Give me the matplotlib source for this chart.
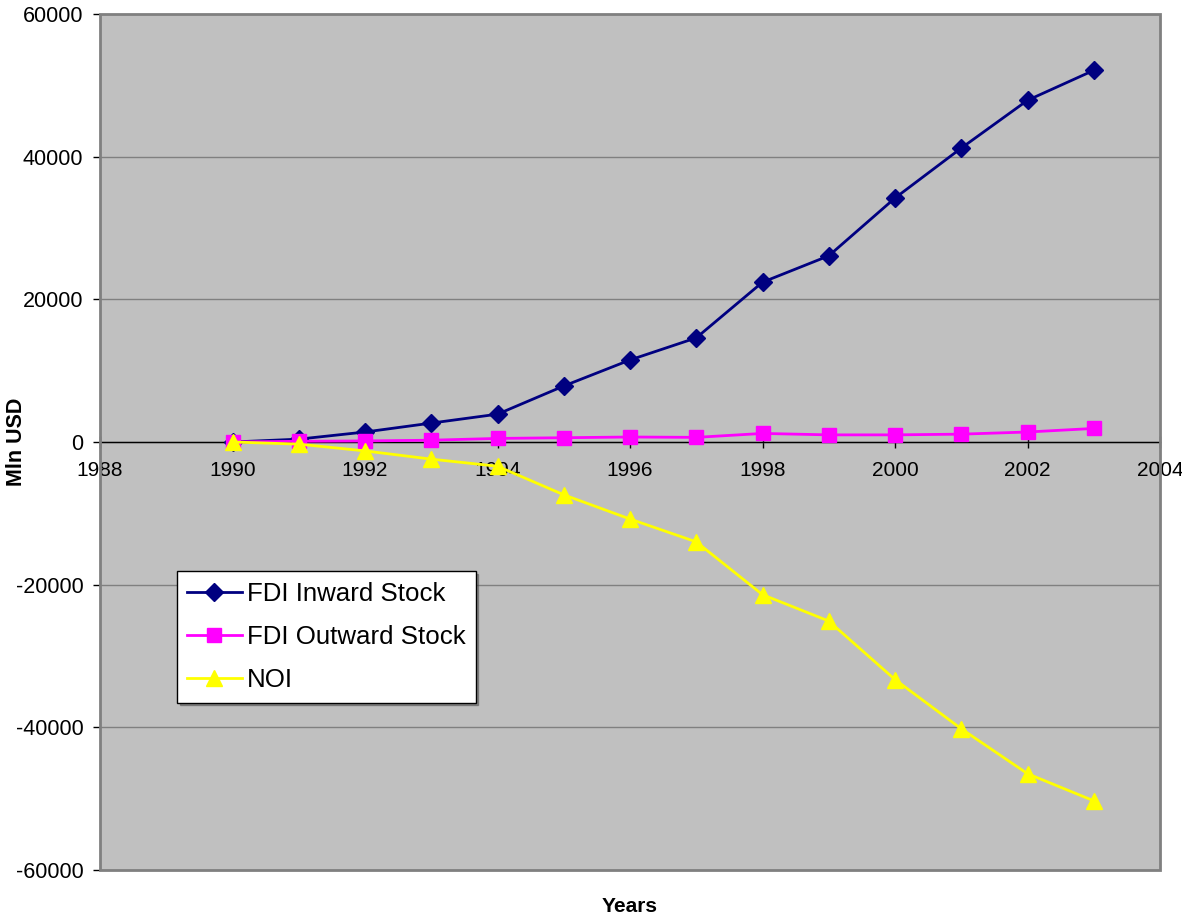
import matplotlib
matplotlib.use("Agg")
import matplotlib.pyplot as plt
from matplotlib.patches import Rectangle

plt.rcParams['font.family'] = ['Liberation Sans', 'DejaVu Sans']

years = [1990, 1991, 1992, 1993, 1994, 1995, 1996, 1997, 1998, 1999, 2000, 2001, 2002, 2003]
fdi_inward = [0, 400, 1400, 2650, 3900, 7850, 11500, 14600, 22400, 26100, 34200, 41200, 47900, 52100]
fdi_outward = [0, 100, 150, 250, 500, 600, 700, 650, 1200, 1000, 1000, 1100, 1400, 1900]
noi = [0, -300, -1250, -2400, -3400, -7400, -10800, -14000, -21400, -25100, -33300, -40200, -46500, -50300]

x_ticks = [1988, 1990, 1992, 1994, 1996, 1998, 2000, 2002, 2004]
y_ticks = [-60000, -40000, -20000, 0, 20000, 40000, 60000]

fig = plt.figure(figsize=(11.82, 9.17), dpi=100)
ax = fig.add_axes([100/1182, 47/917, 1060/1182, 856/917])
ax.set_facecolor('#C0C0C0')

ax.plot(years, fdi_inward, color='#000080', marker='D', markersize=9, linewidth=2,
        label='FDI Inward Stock', zorder=3)
ax.plot(years, fdi_outward, color='#FF00FF', marker='s', markersize=10.5, linewidth=2,
        label='FDI Outward Stock', zorder=3)
ax.plot(years, noi, color='#FFFF00', marker='^', markersize=12, linewidth=2,
        label='NOI', zorder=3)

ax.set_xlim(1988, 2004)
ax.set_ylim(-60000, 60000)
ax.set_xticks(x_ticks)
ax.set_yticks(y_ticks)
ax.set_xticklabels([str(t) for t in x_ticks])
ax.set_yticklabels([str(t) for t in y_ticks])

ax.yaxis.grid(True, color='#808080', linewidth=1.0, zorder=1)
ax.set_axisbelow(True)

for s in ['top', 'right', 'left']:
    ax.spines[s].set_visible(False)
ax.spines['bottom'].set_position(('data', 0))
ax.spines['bottom'].set_color('black')
ax.spines['bottom'].set_linewidth(1.0)
ax.spines['bottom'].set_zorder(2)

ax.add_patch(Rectangle((0, 0), 1, 1, transform=ax.transAxes, fill=False,
                       edgecolor='#808080', linewidth=2, zorder=4, clip_on=False))

ax.tick_params(axis='x', direction='inout', length=8, width=1, labelsize=15, pad=10, colors='black')
ax.tick_params(axis='y', direction='out', length=5, width=1, labelsize=15.5, pad=7, colors='black')

ax.set_xlabel('Years', fontsize=15, fontweight='bold')
ax.xaxis.set_label_coords(0.5, -0.031)
ax.set_ylabel('Mln USD', fontsize=15.5, fontweight='bold')
ax.yaxis.set_label_coords(-0.069, 0.5)

leg = ax.legend(loc='upper left', bbox_to_anchor=(0.0726, 0.349), borderaxespad=0,
                fontsize=18.6, frameon=True, fancybox=False, shadow=True,
                edgecolor='black', facecolor='white', framealpha=1,
                handlelength=2.1, handletextpad=0.2, labelspacing=0.75,
                borderpad=0.4)
leg.get_frame().set_linewidth(1.0)

fig.savefig('out.png', dpi=100)
